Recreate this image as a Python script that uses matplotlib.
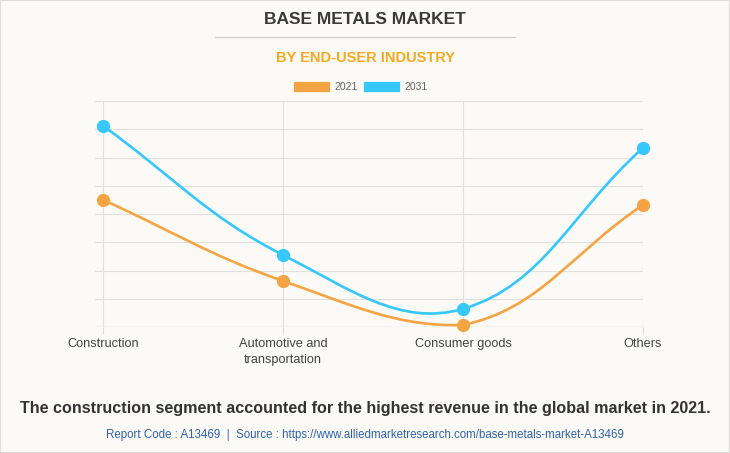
import matplotlib.pyplot as plt
from matplotlib.path import Path
from matplotlib.patches import PathPatch, Rectangle

categories = ["Construction", "Automotive and\ntransportation", "Consumer goods", "Others"]
years = ["2021", "2031"]
values_2021 = [4.5, 1.63, 0.07, 4.32]
values_2031 = [7.12, 2.55, 0.64, 6.34]
colors = ["#f4a443", "#36c7fd"]

plt.rcParams['font.family'] = ['Liberation Sans', 'DejaVu Sans']

# pixel size of one unit along each axis, used for spline tension like chart.js
PX_X = 180.0
PX_Y = 28.25
Y_MIN, Y_MAX = 0, 8


def spline_path(xs, ys, tension=0.4):
    # chart.js style cardinal spline, control points kept inside the plot
    pts = [(x * PX_X, y * PX_Y) for x, y in zip(xs, ys)]
    n = len(pts)
    lo, hi = Y_MIN * PX_Y, Y_MAX * PX_Y

    def cap(p):
        return (p[0], min(max(p[1], lo), hi))

    ctrl = []
    for i in range(n):
        cur = pts[i]
        prev = pts[i - 1] if i > 0 else cur
        nxt = pts[i + 1] if i < n - 1 else cur
        d01 = ((cur[0] - prev[0]) ** 2 + (cur[1] - prev[1]) ** 2) ** 0.5
        d12 = ((nxt[0] - cur[0]) ** 2 + (nxt[1] - cur[1]) ** 2) ** 0.5
        s = d01 + d12
        fa = tension * d01 / s if s else 0
        fb = tension * d12 / s if s else 0
        cp_prev = (cur[0] - fa * (nxt[0] - prev[0]), cur[1] - fa * (nxt[1] - prev[1]))
        cp_next = (cur[0] + fb * (nxt[0] - prev[0]), cur[1] + fb * (nxt[1] - prev[1]))
        ctrl.append((cap(cp_prev), cap(cp_next)))
    verts = [pts[0]]
    codes = [Path.MOVETO]
    for i in range(n - 1):
        verts += [ctrl[i][1], ctrl[i + 1][0], pts[i + 1]]
        codes += [Path.CURVE4] * 3
    verts = [(vx / PX_X, vy / PX_Y) for vx, vy in verts]
    return Path(verts, codes)


bg = "#fbfaf6"
fig = plt.figure(figsize=(7.3, 4.53), dpi=100, facecolor=bg)
ax = fig.add_axes([95 / 730, 1 - 327 / 453, 548 / 730, 226 / 453], facecolor=bg)

xs = list(range(len(categories)))
for vals, c in zip([values_2021, values_2031], colors):
    ax.add_patch(PathPatch(spline_path(xs, vals), fill=False, edgecolor=c, lw=1.9,
                           zorder=3, clip_on=False))
    ax.plot(xs, vals, 'o', color=c, markersize=8.5, zorder=4, clip_on=False)

ax.set_xlim(-8 / PX_X, 3)
ax.set_ylim(Y_MIN, Y_MAX)
ax.set_yticks(range(Y_MIN, Y_MAX + 1))
ax.set_yticklabels([])
ax.set_xticks(xs)
ax.set_xticklabels(categories, fontsize=9.2, color="#444444", linespacing=1.45)
ax.tick_params(axis='y', length=0)
ax.tick_params(axis='x', length=5, color="#dddddd", pad=3)
ax.grid(True, color="#e2e0dc", lw=0.8)
for sp in ax.spines.values():
    sp.set_visible(False)
ax.axhline(0, color="#d8d6d2", lw=0.9, zorder=1)

# titles
fig.text(365 / 730, 1 - 20 / 453, "BASE METALS MARKET", ha='center', va='center',
         fontsize=12.5, fontweight='bold', color="#3a3a3a")
fig.add_artist(plt.Line2D([215 / 730, 515 / 730], [1 - 37 / 453, 1 - 37 / 453],
                          color="#cccccc", lw=0.9))
fig.text(365 / 730, 1 - 58 / 453, "BY END-USER INDUSTRY", ha='center', va='center',
         fontsize=10.5, fontweight='bold', color="#f8a81f")

# legend
for i, (lab, c) in enumerate(zip(years, colors)):
    x0 = 293 + i * 70
    fig.add_artist(Rectangle((x0 / 730, 1 - 92 / 453), 37 / 730, 11 / 453,
                             transform=fig.transFigure, facecolor=c, edgecolor="white", lw=0.5))
    fig.text((x0 + 41) / 730, 1 - 86.5 / 453, lab, ha='left', va='center',
             fontsize=7.5, color="#666666")

fig.text(365 / 730, 1 - 408 / 453,
         "The construction segment accounted for the highest revenue in the global market in 2021.",
         ha='center', va='center', fontsize=11.6, fontweight='bold', color="#333333")
fig.text(365 / 730, 1 - 435 / 453,
         "Report Code : A13469  |  Source : https://www.alliedmarketresearch.com/base-metals-market-A13469",
         ha='center', va='center', fontsize=8.3, color="#2f62ad")

fig.add_artist(Rectangle((0, 0), 1, 1, transform=fig.transFigure, fill=False,
                         edgecolor="#dddddd", lw=1.5))

fig.savefig("out.png", dpi=100, facecolor=bg)
